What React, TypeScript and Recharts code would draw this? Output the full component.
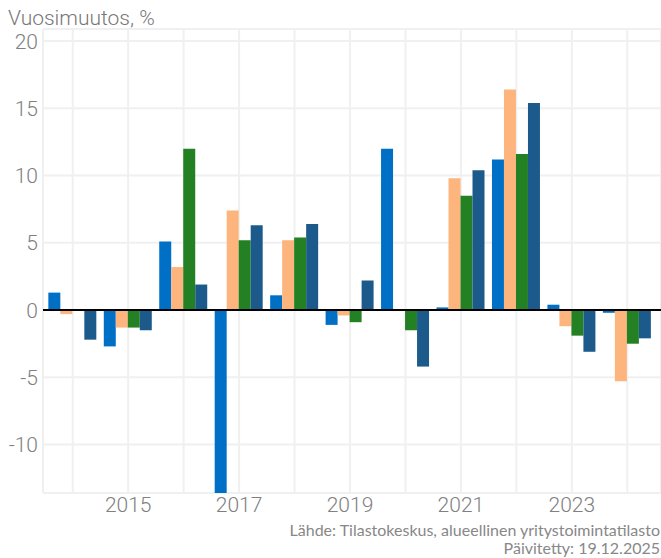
import { BarChart, Bar, XAxis, YAxis, CartesianGrid, ReferenceLine } from "recharts";

const years = ["2014", "2015", "2016", "2017", "2018", "2019", "2020", "2021", "2022", "2023", "2024"];
const q1 = [1.3, -2.7, 5.1, -15.0, 1.1, -1.1, 12.0, 0.2, 11.2, 0.4, -0.2];
const q2 = [-0.3, -1.3, 3.2, 7.4, 5.2, -0.4, 0.0, 9.8, 16.4, -1.2, -5.3];
const q3 = [0.0, -1.3, 12.0, 5.2, 5.4, -0.9, -1.5, 8.5, 11.6, -1.9, -2.5];
const q4 = [-2.2, -1.5, 1.9, 6.3, 6.4, 2.2, -4.2, 10.4, 15.4, -3.1, -2.1];
const yTicks = [-10, -5, 0, 5, 10, 15, 20];

const data = years.map((y, i) => ({ year: y, q1: q1[i], q2: q2[i], q3: q3[i], q4: q4[i] }));

const tickStyle = { fill: "#808080", fontSize: 21, fontWeight: 300, fontFamily: "Roboto, sans-serif" };

export default function App() {
  return (
    <div style={{ position: "absolute", left: 0, top: 0, width: 661, height: 558, background: "#fff" }}>
      <div
        style={{
          position: "absolute",
          left: 8,
          top: 5,
          fontFamily: "Roboto, sans-serif",
          fontSize: 21,
          fontWeight: 300,
          color: "#777",
          lineHeight: "26px",
        }}
      >
        Vuosimuutos, %
      </div>
      <BarChart
        width={661}
        height={558}
        data={data}
        margin={{ top: 29, right: 0, bottom: 35, left: 0 }}
        barCategoryGap="6%"
        barGap={0}
      >
        <CartesianGrid stroke="#f0f0f0" strokeWidth={2} />
        <XAxis
          dataKey="year"
          interval={0}
          tickLine={false}
          axisLine={false}
          tickSize={0}
          tickMargin={4}
          height={30}
          padding={{ left: 2, right: 6 }}
          tick={tickStyle}
          tickFormatter={(v: string) => (Number(v) % 2 === 1 ? v : "")}
        />
        <YAxis
          width={43}
          domain={[-13.6, 20.9]}
          ticks={yTicks}
          allowDataOverflow
          tickLine={false}
          axisLine={false}
          tickSize={0}
          tickMargin={5}
          tick={tickStyle}
        />
        <Bar dataKey="q1" fill="#0070C6" isAnimationActive={false} />
        <Bar dataKey="q2" fill="#FDB57D" isAnimationActive={false} />
        <Bar dataKey="q3" fill="#238023" isAnimationActive={false} />
        <Bar dataKey="q4" fill="#1B5A8B" isAnimationActive={false} />
        <ReferenceLine y={0} stroke="#000" strokeWidth={2} />
      </BarChart>
      <div
        style={{
          position: "absolute",
          right: 1,
          top: 521,
          textAlign: "right",
          fontFamily: "Lato, sans-serif",
          fontSize: 16,
          color: "#888",
          lineHeight: "18px",
        }}
      >
        Lähde: Tilastokeskus, alueellinen yritystoimintatilasto
        <br />
        Päivitetty: 19.12.2025
      </div>
    </div>
  );
}
